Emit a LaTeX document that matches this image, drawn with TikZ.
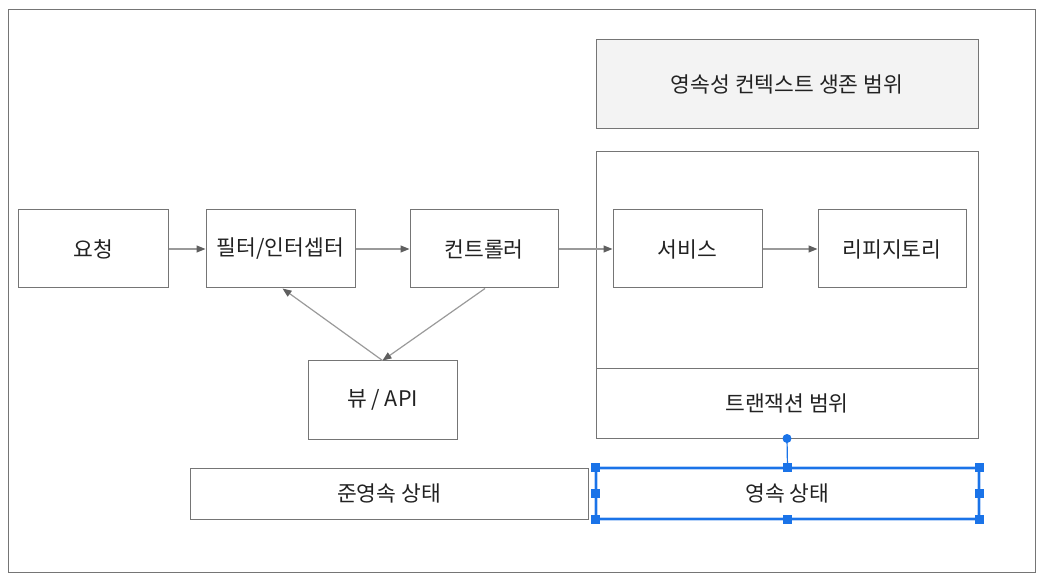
\documentclass[tikz,border=0pt]{standalone}
\usepackage{fontspec}
\setmainfont{Noto Sans CJK KR}
\usetikzlibrary{arrows.meta}
\definecolor{boxline}{HTML}{757575}
\definecolor{arrline}{HTML}{9A9A9A}
\definecolor{arrhead}{HTML}{5F5F5F}
\definecolor{selblue}{HTML}{1A73E8}
\definecolor{selglow}{HTML}{B8D3F8}
\definecolor{lightfill}{HTML}{F3F3F3}
\definecolor{txtcol}{HTML}{222222}
\begin{document}
\begin{tikzpicture}[x=1pt,y=-1pt,
  box/.style={draw=boxline,line width=1pt,inner sep=0pt,text=txtcol,font=\fontsize{21.5}{24}\selectfont},
  conn/.style={draw=arrline,line width=1.2pt,-{Triangle[length=9pt,width=7pt,color=arrhead]}},
  handle/.style={fill=selblue,draw=none,minimum size=9pt,inner sep=0pt}]
\useasboundingbox (0,0) rectangle (1042,577);
\draw[boxline,line width=1pt] (8,10) rectangle (1035,572);
% boxes
\node[box,minimum width=150pt,minimum height=78pt] (req) at (93,249) {요청};
\node[box,minimum width=149pt,minimum height=78pt] (filt) at (280.5,249) {필터/인터셉터};
\node[box,minimum width=148pt,minimum height=78pt] (ctrl) at (484,249) {컨트롤러};
\node[box,minimum width=149pt,minimum height=78pt] (view) at (382.5,400) {뷰 / API};
\node[box,fill=lightfill,minimum width=382pt,minimum height=89pt] (ctx) at (787,84.5) {영속성 컨텍스트 생존 범위};
\node[box,minimum width=382pt,minimum height=286pt] (txarea) at (787,295) {};
\node[box,minimum width=382pt,minimum height=69pt] (tx) at (787,403.5) {트랜잭션 범위};
\node[box,minimum width=149pt,minimum height=78pt] (svc) at (687.5,249) {서비스};
\node[box,minimum width=148pt,minimum height=78pt] (repo) at (892,249) {리피지토리};
\node[box,minimum width=398pt,minimum height=51pt] (detached) at (389,493.5) {준영속 상태};
% selected box
\node[draw=selglow,line width=4pt,minimum width=383pt,minimum height=51pt,inner sep=0pt] (persglow) at (787.5,493.5) {};
\node[draw=selblue,line width=1.5pt,minimum width=383pt,minimum height=51pt,inner sep=0pt,text=txtcol,font=\fontsize{21.5}{24}\selectfont] (pers) at (787.5,493.5) {영속 상태};
% arrows
\draw[conn] (req) -- (filt);
\draw[conn] (filt) -- (ctrl);
\draw[conn] (ctrl) -- (svc);
\draw[conn] (svc) -- (repo);
\draw[conn] (ctrl.south) ++(1,0) coordinate (c1) (c1) -- (view.north);
\draw[conn] (view.north) -- ([xshift=2pt]filt.south);
% selection handles
\draw[selblue,line width=1.2pt] (pers.north) -- (tx.south);
\fill[selblue] (tx.south) circle (4.5pt);
\foreach \a in {north west,north,north east,west,east,south west,south,south east}
  \node[handle] at (pers.\a) {};
\end{tikzpicture}
\end{document}
